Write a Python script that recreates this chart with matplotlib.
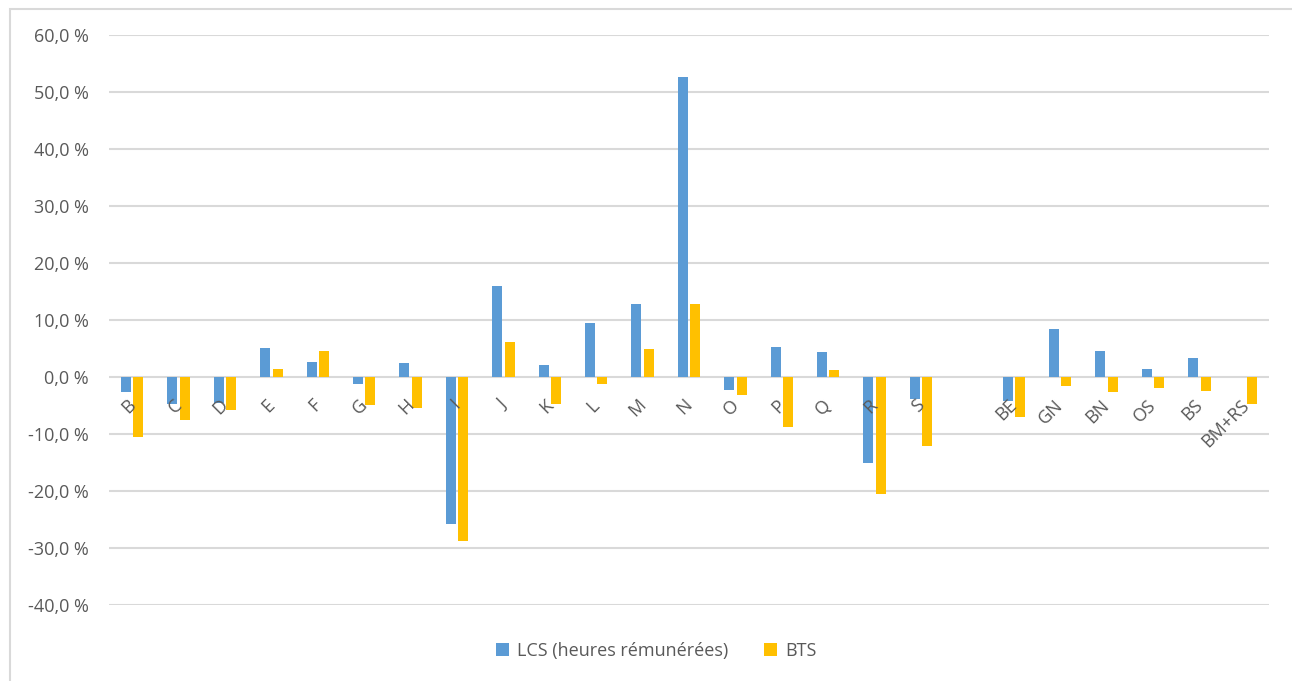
import numpy as np
import matplotlib.pyplot as plt
from matplotlib.patches import Rectangle

# branches, an empty slot, then the aggregates
categories = ["B", "C", "D", "E", "F", "G", "H", "I", "J", "K", "L", "M", "N",
              "O", "P", "Q", "R", "S", "", "BE", "GN", "BN", "OS", "BS", "BM+RS"]
lcs = [-2.6, -4.7, -4.6, 5.1, 2.6, -1.2, 2.4, -25.8, 16.0, 2.1, 9.4, 12.8, 52.6,
       -2.3, 5.2, 4.4, -15.1, -3.9, np.nan, -4.2, 8.4, 4.6, 1.35, 3.4, np.nan]
bts = [-10.5, -7.5, -5.8, 1.4, 4.6, -4.9, -5.4, -28.8, 6.1, -4.8, -1.2, 5.0, 12.8,
       -3.2, -8.8, 1.2, -20.5, -12.1, np.nan, -7.0, -1.5, -2.6, -2.0, -2.4, -4.7]
yticks = [-40, -30, -20, -10, 0, 10, 20, 30, 40, 50, 60]

BLUE = "#5B9BD5"
GOLD = "#FFC000"
GREY_TXT = "#595959"
GRID = "#D9D9D9"
FS = 13

plt.rcParams['font.family'] = ['Open Sans', 'DejaVu Sans']

W, H = 1292, 681
fig = plt.figure(figsize=(W / 100, H / 100), dpi=100)
ax = fig.add_axes([109 / W, (H - 605) / H, (1269 - 109) / W, (605 - 35) / H])

# chart frame
fig.patches.append(Rectangle((10 / W, -0.1), 1.2, (H - 9) / H + 0.1,
                             transform=fig.transFigure, fill=False,
                             edgecolor=GRID, linewidth=1.5))

x = np.arange(len(categories))
bw = 0.215
off = bw / 2 + 0.025
ax.bar(x - off, lcs, width=bw, color=BLUE, label="LCS (heures rémunérées)", zorder=3)
ax.bar(x + off, bts, width=bw, color=GOLD, label="BTS", zorder=3)

ax.set_xlim(-0.5, len(categories) - 0.5)
ax.set_ylim(-40, 60)
ax.set_yticks(yticks)
ax.set_yticklabels([f"{v:.1f} %".replace(".", ",") for v in yticks],
                   color=GREY_TXT, fontsize=FS)
ax.tick_params(axis='y', length=0, pad=14.4)
ax.set_xticks([])
ax.grid(axis='y', color=GRID, linewidth=1.5, zorder=0)
for s in ax.spines.values():
    s.set_visible(False)

# category labels sit just under the zero line, rotated
for i, lab in enumerate(categories):
    if not lab:
        continue
    ax.annotate(lab, xy=(i, 0), xytext=(-6, -19), textcoords='offset pixels',
                rotation=45, rotation_mode='anchor', ha='right', va='top',
                color=GREY_TXT, fontsize=FS)

fig.legend(loc='center', bbox_to_anchor=(0.508, 1 - 651 / H), ncol=2,
           frameon=False, fontsize=FS, labelcolor=GREY_TXT,
           handlelength=0.7, handleheight=0.7, handletextpad=0.45,
           columnspacing=2.0)

fig.savefig("out.png", dpi=100, facecolor="white")
